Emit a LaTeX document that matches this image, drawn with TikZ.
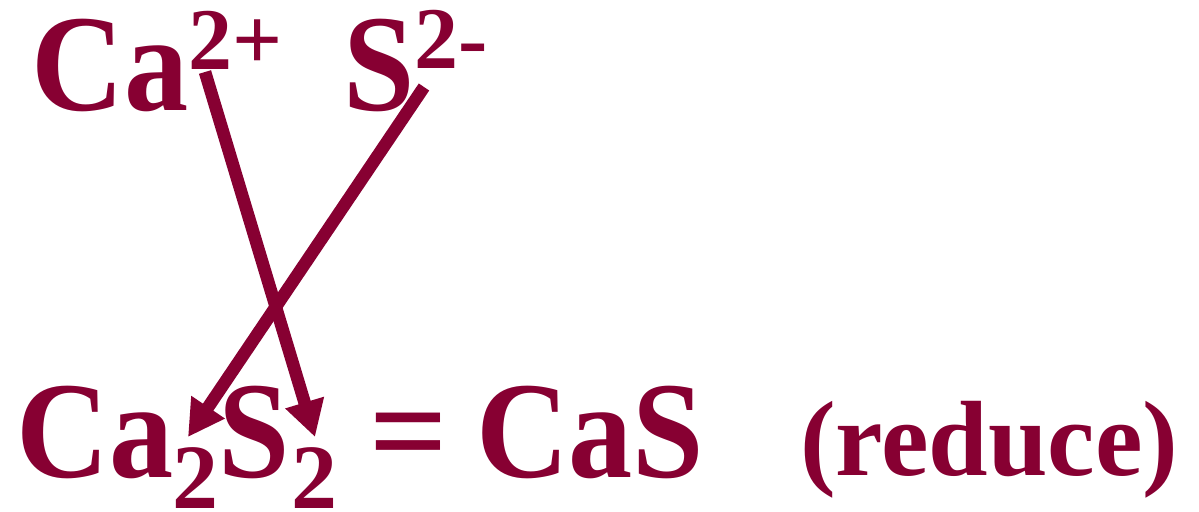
\documentclass[tikz,border=0pt]{standalone}
\usepackage{fontspec}
\setmainfont{Liberation Serif}
\newfontfamily\narrowserif[FakeStretch=0.93]{Liberation Serif}
\usetikzlibrary{arrows.meta}
\definecolor{maroon}{RGB}{135,0,50}
\begin{document}
\begin{tikzpicture}[x=0.5pt,y=-0.5pt,
  every node/.style={inner sep=0pt,outer sep=0pt,anchor=base west,text=maroon},
  chem/.style={font=\fontsize{69pt}{80pt}\narrowserif\bfseries},
  eqsign/.style={font=\fontsize{69pt}{80pt}\selectfont\bfseries},
  charge/.style={font=\fontsize{44pt}{50pt}\selectfont\bfseries},
  idx/.style={font=\fontsize{46pt}{60pt}\selectfont\bfseries},
  note/.style={font=\fontsize{53.5pt}{60pt}\selectfont\bfseries},
  arr/.style={draw=maroon,line width=6.3pt,-{Triangle[length=18pt,width=19pt]}}]
\useasboundingbox (0,0) rectangle (1199,511);
% top row
\node[chem]   (ca)    at (32,110)  {Ca};
\node[charge] (casup) at (188,69)  {2+};
\node[chem]   (s)     at (343,110) {S};
\node[charge] (ssup)  at (414,68)  {2-};
% bottom row
\node[chem]   (bca)   at (17,477)  {Ca};
\node[idx]    (bsub1) at (172,508) {2};
\node[chem]   (bs)    at (218,477) {S};
\node[idx]    (bsub2) at (291,508) {2};
\node[eqsign] (eq)    at (369,477) {=};
\node[chem]   (cas)   at (476,477) {CaS};
\node[note]   (red)   at (800,475) {(reduce)};
% arrows
\draw[arr] ([shift={(17,3)}]casup.base west) -- ([shift={(24,-71)}]bsub2.base west);
\draw[arr] ([shift={(10,19)}]ssup.base west) -- ([shift={(16,-71)}]bsub1.base west);
\end{tikzpicture}
\end{document}
